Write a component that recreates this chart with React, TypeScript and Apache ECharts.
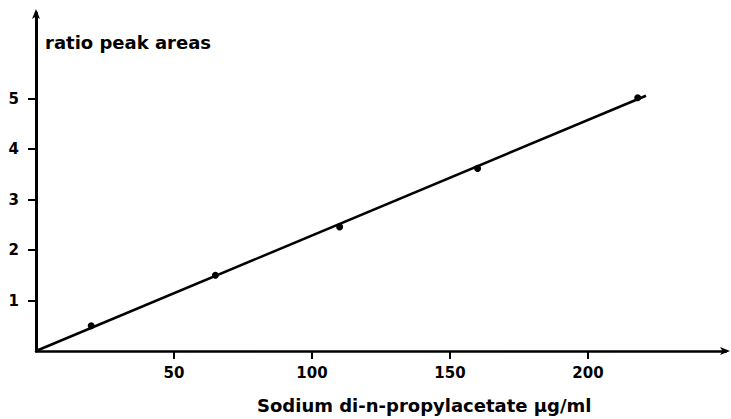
import React, { useEffect, useRef } from "react";
import * as echarts from "echarts";

const concentration = [20, 65, 110, 160, 218];
const ratio = [0.5, 1.5, 2.46, 3.62, 5.02];
const fitX = [0, 221];
const fitY = [0, 5.06];
const xTicks = [50, 100, 150, 200];
const yTicks = [1, 2, 3, 4, 5];
const yTitle = "ratio peak areas";
const xTitle = "Sodium di-n-propylacetate µg/ml";

const FONT = "DejaVu Sans";

export default function App() {
  const ref = useRef<HTMLDivElement>(null);
  useEffect(() => {
    if (!ref.current) return;
    const chart = echarts.init(ref.current, null, { renderer: "svg" });
    chart.setOption({
      animation: false,
      backgroundColor: "#ffffff",
      grid: { left: 36, right: 5, top: 13, bottom: 68, containLabel: false },
      xAxis: {
        type: "value",
        min: 0,
        max: 250,
        interval: 50,
        axisLine: {
          show: true,
          symbol: ["none", "arrow"],
          symbolSize: [6, 10],
          symbolOffset: [0, 4],
          lineStyle: { color: "#000", width: 2.5 },
        },
        axisTick: {
          show: true,
          length: 8,
          customValues: xTicks,
          lineStyle: { color: "#000", width: 2 },
        },
        axisLabel: {
          customValues: xTicks,
          margin: 14,
          fontFamily: FONT,
          fontWeight: "bold",
          fontSize: 15,
          color: "#000",
        },
        splitLine: { show: false },
      },
      yAxis: {
        type: "value",
        min: 0,
        max: 6.7,
        interval: 1,
        axisLine: {
          show: true,
          symbol: ["none", "arrow"],
          symbolSize: [6, 10],
          symbolOffset: [0, 4],
          lineStyle: { color: "#000", width: 3 },
        },
        axisTick: {
          show: true,
          length: 8,
          customValues: yTicks,
          lineStyle: { color: "#000", width: 2 },
        },
        axisLabel: {
          customValues: yTicks,
          margin: 17,
          fontFamily: FONT,
          fontWeight: "bold",
          fontSize: 15,
          color: "#000",
        },
        splitLine: { show: false },
      },
      graphic: [
        {
          type: "text",
          left: 45,
          top: 33,
          style: {
            text: yTitle,
            fontFamily: FONT,
            fontWeight: "bold",
            fontSize: 18,
            fill: "#000",
          },
        },
        {
          type: "text",
          left: 257,
          top: 396,
          style: {
            text: xTitle,
            fontFamily: FONT,
            fontWeight: "bold",
            fontSize: 18,
            fill: "#000",
          },
        },
      ],
      series: [
        {
          type: "line",
          data: fitX.map((x, i) => [x, fitY[i]]),
          showSymbol: false,
          symbol: "none",
          lineStyle: { color: "#000", width: 2.5 },
          silent: true,
        },
        {
          type: "scatter",
          data: concentration.map((x, i) => [x, ratio[i]]),
          symbol: "circle",
          symbolSize: 7,
          itemStyle: { color: "#000", opacity: 1 },
        },
      ],
    });
    return () => chart.dispose();
  }, []);
  return (
    <div
      ref={ref}
      style={{ position: "fixed", left: 0, top: 0, width: 731, height: 419, background: "#fff" }}
    />
  );
}
